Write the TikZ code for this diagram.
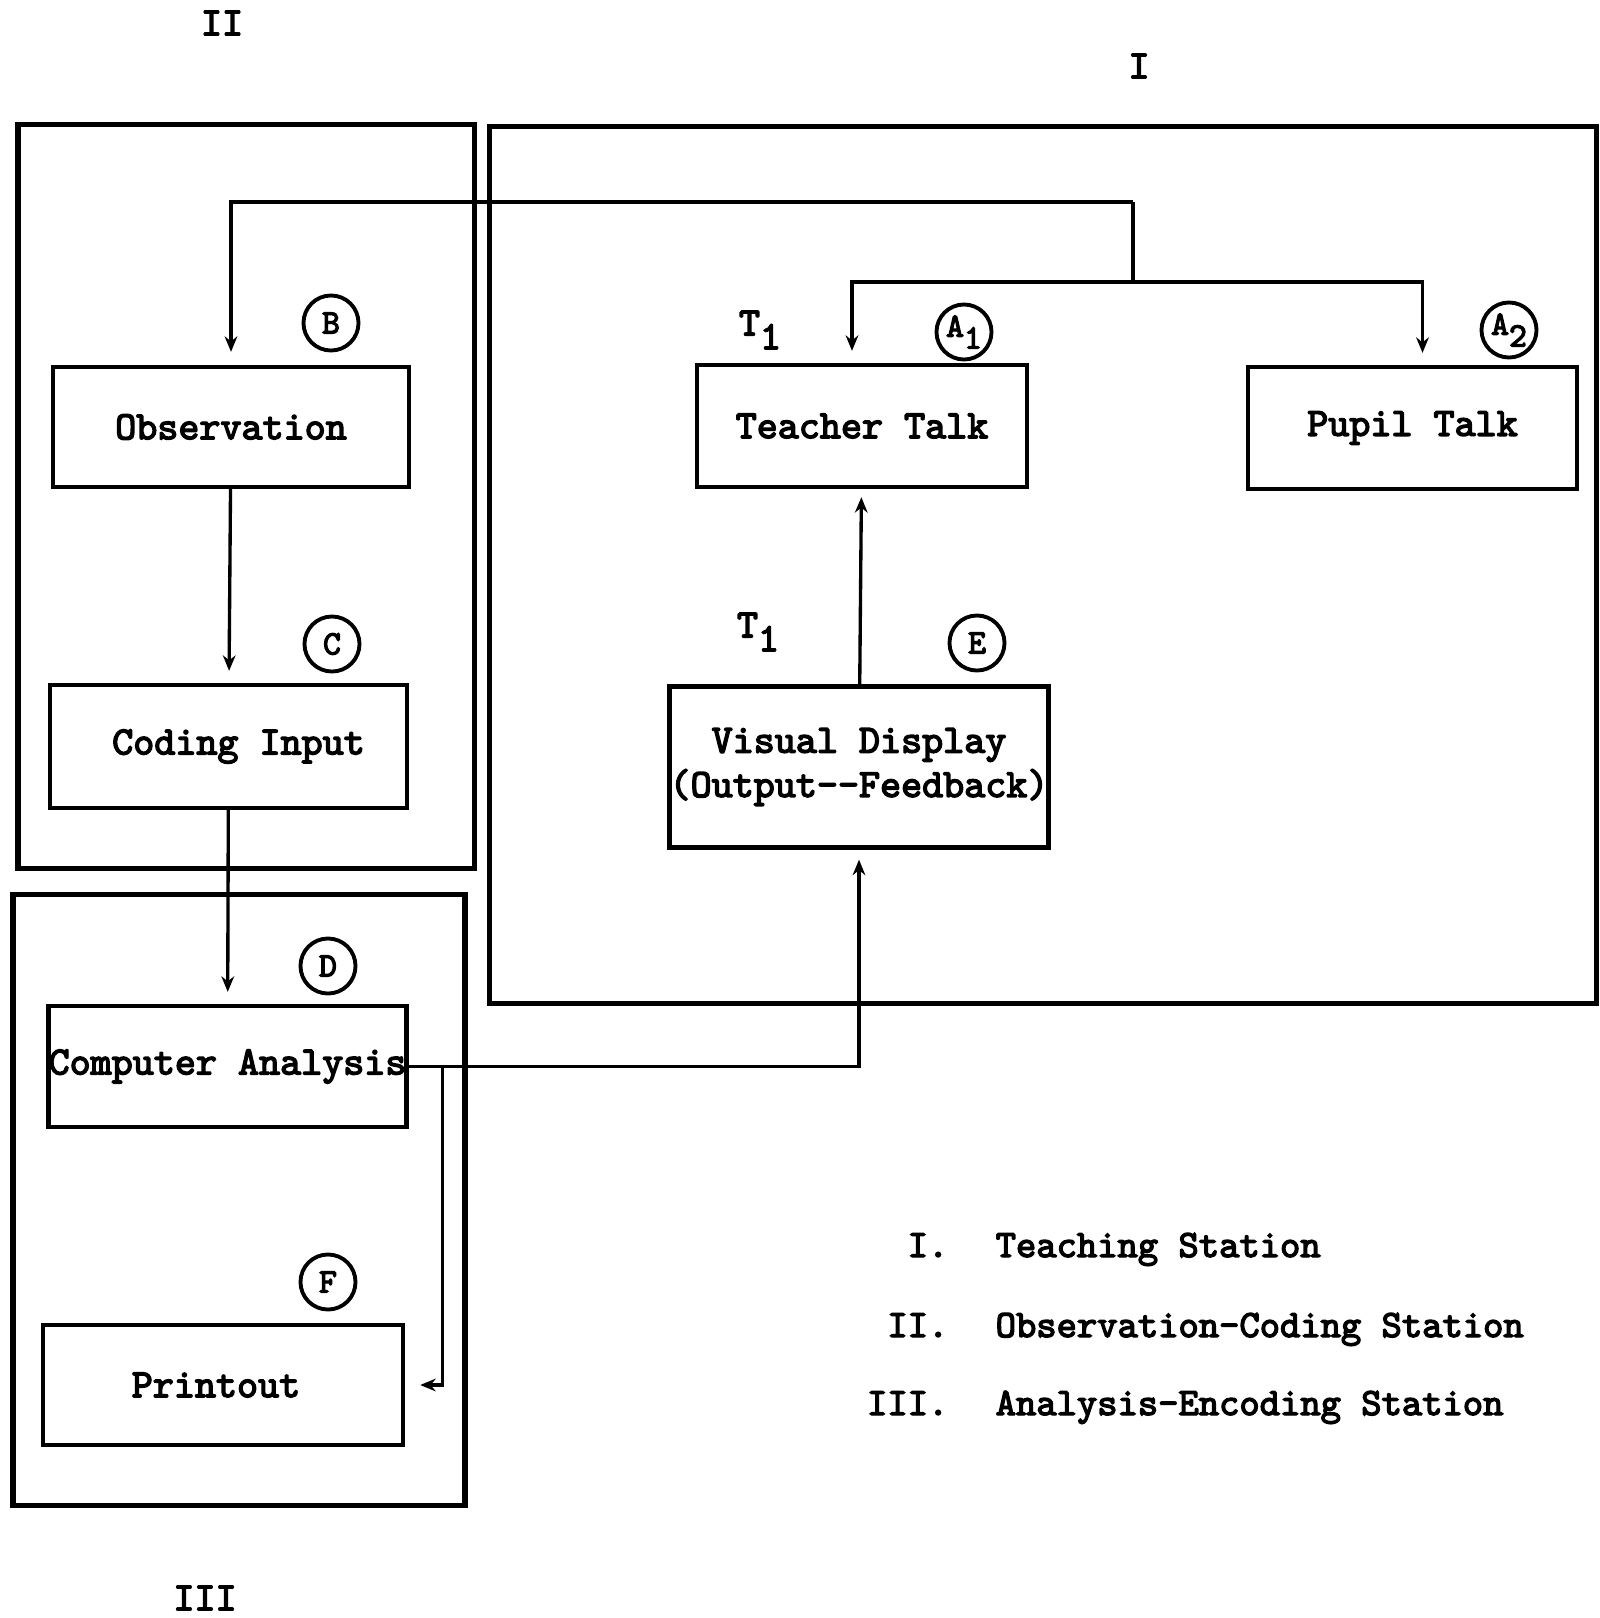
\documentclass[tikz,border=0pt]{standalone}
\usepackage{fontspec}
\usepackage{tikz}
\usetikzlibrary{arrows.meta, positioning, calc}

\newfontfamily\typefont{lmmono10-regular.otf}[AutoFakeBold=3.5]
\newcommand{\lowdigit}[1]{\raisebox{-0.8ex}{#1}}

\begin{document}
\begin{tikzpicture}[
  x=0.01cm, y=-0.01cm,
  every node/.style={font=\fontsize{11.4}{12.6}\selectfont\typefont\bfseries},
  arrow/.style={-{Stealth[length=4.4pt, width=3.6pt]}, line width=0.95pt},
  link/.style={line width=0.95pt},
  block/.style={draw, rectangle, line width=1.2pt, inner sep=0pt, align=center, minimum width=3.57cm, minimum height=1.21cm},
  station_box/.style={draw, rectangle, line width=1.5pt, inner sep=0pt},
  letter_circle/.style={draw, circle, line width=1.1pt, inner sep=0pt, minimum size=0.55cm, font=\fontsize{9.7}{10}\selectfont\typefont\bfseries},
  legend/.style={inner sep=0pt, font=\fontsize{11}{12}\selectfont\typefont\bfseries}
]
  \useasboundingbox (0,0) rectangle (1600,1618);

  % Stations
  \node (stII) [station_box, minimum width=4.56cm, minimum height=7.43cm] at (246,496.5) {};
  \node (stI) [station_box, minimum width=11.06cm, minimum height=8.76cm] at (1043,565) {};
  \node (stIII) [station_box, minimum width=4.52cm, minimum height=6.10cm] at (239,1200) {};
  \node (lblII) at (222,23) {II};
  \node (lblI) at (1139,66) {I};
  \node (lblIII) at (205,1598) {III};

  % Blocks
  \node (obs) [block, minimum width=3.56cm, minimum height=1.20cm] at (231,427) {Observation};
  \node (coding) [block, minimum height=1.23cm] at (228.5,746.5) {\hspace*{0.2cm}Coding Input};
  \node (comp) [block] at (227.5,1066.5) {Computer Analysis};
  \node (print) [block, minimum width=3.60cm, minimum height=1.20cm] at (223,1385) {Printout\hspace*{0.14cm}};
  \node (teacher) [block, minimum width=3.30cm, minimum height=1.22cm] at (862,426) {Teacher Talk};
  \node (pupil) [block, minimum width=3.29cm, minimum height=1.22cm] at (1412.5,428) {Pupil Talk};
  \node (visual) [block, minimum width=3.74cm, minimum height=1.61cm] at (859,767) {Visual Display\\(Output-{}-Feedback)};

  % Circled letters
  \node (tagB) [letter_circle] at (331,323) {B};
  \node (tagC) [letter_circle] at (332,644) {C};
  \node (tagD) [letter_circle] at (328,966) {D};
  \node (tagF) [letter_circle] at (328,1282) {F};
  \node (tagE) [letter_circle] at (977,643) {E};
  \node (tagAone) [letter_circle] at (964,332) {A\lowdigit{1}};
  \node (tagAtwo) [letter_circle] at (1509,330) {A\lowdigit{2}};
  \node (tTeacher) at (760,330) {T\lowdigit{1}};
  \node (tVisual) at (758,632) {T\lowdigit{1}};

  % Connectors
  \coordinate (hub) at (1133,202);
  \coordinate (fork) at (1133,282);
  \draw[arrow, shorten >=0.13cm] (hub) -| (obs.north);
  \draw[link] (hub) -- (fork);
  \draw[arrow, shorten >=0.12cm] (fork) -| ([xshift=-0.1cm]teacher.north);
  \draw[arrow, shorten >=0.12cm] (fork) -| ([xshift=0.1cm]pupil.north);
  \draw[arrow, shorten >=0.12cm] (obs) -- (coding);
  \draw[arrow, shorten >=0.12cm] (coding) -- (comp);
  \draw[arrow, shorten >=0.08cm] (visual) -- (teacher);
  \draw[arrow, shorten >=0.1cm] (comp.east) -| (visual.south);
  \draw[arrow, shorten >=0.15cm] (comp.east) -- ++(34,0) |- (print.east);

  % Legend
  \node (numI) [legend, anchor=base east] at (949,1257) {I.};
  \node (txtI) [legend, anchor=base west] at (995,1257) {Teaching Station};
  \node (numII) [legend, anchor=base east] at (949,1337) {II.};
  \node (txtII) [legend, anchor=base west] at (995,1337) {Observation-Coding Station};
  \node (numIII) [legend, anchor=base east] at (949,1415) {III.};
  \node (txtIII) [legend, anchor=base west] at (995,1415) {Analysis-Encoding Station};
\end{tikzpicture}
\end{document}
